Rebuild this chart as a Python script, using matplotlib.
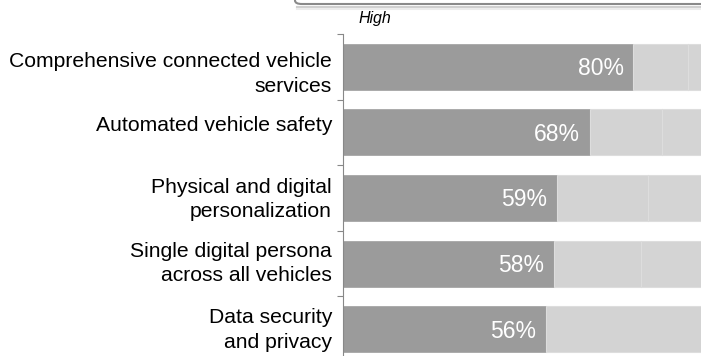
import matplotlib
matplotlib.use("Agg")
import matplotlib.pyplot as plt
import matplotlib.transforms as mtransforms
from matplotlib.patches import FancyBboxPatch
import numpy as np

plt.rcParams['font.family'] = ['Liberation Sans', 'DejaVu Sans']

categories = [
    "Comprehensive connected vehicle\nservices",
    "Automated vehicle safety",
    "Physical and digital\npersonalization",
    "Single digital persona\nacross all vehicles",
    "Data security\nand privacy",
]
high = [80, 68, 59, 58, 56]
medium = [15, 20, 25, 24, 43]
low = [100 - h - m for h, m in zip(high, medium)]
legend_label = "High"

W, H = 701, 356
fig = plt.figure(figsize=(W / 100, H / 100), dpi=100)

# axes in pixel geometry
left_px, top_px, bottom_px = 343, 34, 362
x100_px = 343 + 363
ax = fig.add_axes([left_px / W, (H - bottom_px) / H,
                   (x100_px - left_px) / W, (bottom_px - top_px) / H])

y = np.arange(len(categories))
bh = 0.70
ax.barh(y, high, height=bh, color='#9b9b9b', edgecolor='#a6a6a6', linewidth=0.6)
ax.barh(y, medium, left=high, height=bh, color='#d3d3d3', edgecolor='#dddddd', linewidth=0.8)
ax.barh(y, low, left=np.array(high) + np.array(medium), height=bh,
        color='#d4d4d4', edgecolor='#dddddd', linewidth=0.8)

for yi, v in zip(y, high):
    ax.text(v - 2.7, yi + 0.03, f"{v}%", color='white', fontsize=16.5,
            ha='right', va='center')

ax.set_xlim(0, 100)
ax.set_ylim(len(categories) - 0.5, -0.5)
ax.set_xticks([])
ax.set_yticks(y)
ax.set_yticklabels(categories, fontsize=15.2, linespacing=1.38)
ax.tick_params(axis='y', which='major', length=0, pad=8, colors='black')
ax.set_yticks(np.arange(-0.5, len(categories), 1.0), minor=True)
ax.tick_params(axis='y', which='minor', length=4, width=0.8, color='#888888')
shifts_px = [-2.5, 9, 3.5, 5, 4]
for lbl, sh in zip(ax.get_yticklabels(), shifts_px):
    lbl.set_horizontalalignment('right')
    off = mtransforms.ScaledTranslation(0, sh / 100, fig.dpi_scale_trans)
    lbl.set_transform(lbl.get_transform() + off)
for s in ['top', 'right', 'bottom']:
    ax.spines[s].set_visible(False)
ax.spines['left'].set_color('#888888')
ax.spines['left'].set_linewidth(0.8)

# legend box remnant at top
box = FancyBboxPatch((295 / W, (H - 4) / H), 500 / W, 40 / H,
                     boxstyle="round,pad=0,rounding_size=0.01",
                     transform=fig.transFigure, facecolor='white',
                     edgecolor='#8a8a8a', linewidth=1.5, zorder=5)
fig.patches.append(box)
fig.add_artist(plt.Line2D([297 / W, 1], [(H - 6.5) / H] * 2, transform=fig.transFigure,
                          color='#cfcfcf', linewidth=1.5))
fig.add_artist(plt.Line2D([297 / W, 1], [(H - 8.5) / H] * 2, transform=fig.transFigure,
                          color='#ececec', linewidth=1.5))
fig.text(375 / W, (H - 18) / H, legend_label, fontsize=11.5, style='italic',
         ha='center', va='center')

fig.savefig("out.png", dpi=100)
